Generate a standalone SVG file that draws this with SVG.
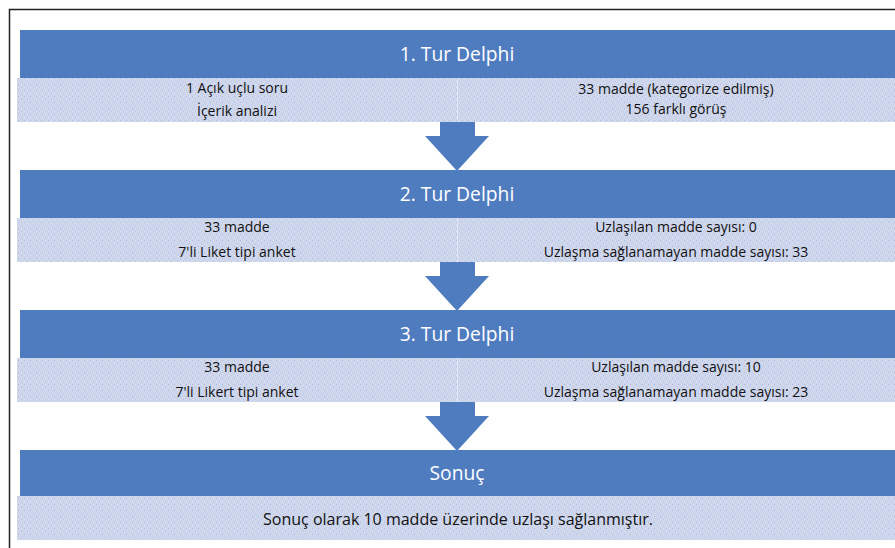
<svg xmlns="http://www.w3.org/2000/svg" width="895" height="548" viewBox="0 0 895 548">
<defs>
<pattern id="tex" width="6" height="6" patternUnits="userSpaceOnUse">
<rect width="6" height="6" fill="#cbd3eb"/>
<rect x="0" y="0" width="1" height="1" fill="#b0bde0"/>
<rect x="3" y="0" width="1" height="1" fill="#dde3f3"/>
<rect x="0" y="3" width="1" height="1" fill="#dde3f3"/>
<rect x="3" y="3" width="1" height="1" fill="#b0bde0"/>
<rect x="2" y="3" width="1" height="1" fill="#d7ddf0"/>
<rect x="4" y="3" width="1" height="1" fill="#d7ddf0"/>
<rect x="3" y="2" width="1" height="1" fill="#d7ddf0"/>
<rect x="3" y="4" width="1" height="1" fill="#d7ddf0"/>
<rect x="1" y="1" width="1" height="1" fill="#d7ddf0"/>
<rect x="5" y="5" width="1" height="1" fill="#d7ddf0"/>
<rect x="1" y="5" width="1" height="1" fill="#d7ddf0"/>
<rect x="5" y="1" width="1" height="1" fill="#d7ddf0"/>
</pattern>
</defs>
<style>
.hdr{fill:#4f7bbf}
.strip{fill:url(#tex)}
.ht{font-family:"Open Sans","Liberation Sans",sans-serif;font-size:19.3px;fill:#ffffff;text-anchor:middle}
.st{font-family:"Open Sans","Liberation Sans",sans-serif;font-size:14px;fill:#111111;text-anchor:middle}
.big{font-size:16px}
.arrow{fill:#4f7bbf}
.div{stroke:#e4e8f4;stroke-width:1}
</style>
<rect x="0" y="0" width="895" height="548" fill="#ffffff"/>
<path d="M9.5 548 V9.5 H895" fill="none" stroke="#222222" stroke-width="1.5"/>

<g id="connectors">
<polygon class="arrow" points="440,122 475,122 475,136 489,136 457,171 425,136 440,136"/>
<polygon class="arrow" points="440,262 475,262 475,276 489,276 457,311 425,276 440,276"/>
<polygon class="arrow" points="440,402 475,402 475,416 489,416 457,451 425,416 440,416"/>
</g>

<g id="round1">
<rect class="hdr" x="20" y="30" width="875" height="48"/>
<text class="ht" x="457" y="61">1. Tur Delphi</text>
<rect class="strip" x="17" y="78" width="878" height="44"/>
<line class="div" x1="457.5" y1="78" x2="457.5" y2="122"/>
<text class="st" x="237" y="93">1 Açık uçlu soru</text>
<text class="st" x="237" y="116">İçerik analizi</text>
<text class="st" x="676" y="94">33 madde (kategorize edilmiş)</text>
<text class="st" x="676" y="114">156 farklı görüş</text>
</g>

<g id="round2">
<rect class="hdr" x="20" y="170" width="875" height="48"/>
<text class="ht" x="457" y="201">2. Tur Delphi</text>
<rect class="strip" x="17" y="218" width="878" height="44"/>
<line class="div" x1="457.5" y1="218" x2="457.5" y2="262"/>
<text class="st" x="237" y="232">33 madde</text>
<text class="st" x="237" y="257">7'li Liket tipi anket</text>
<text class="st" x="676" y="232">Uzlaşılan madde sayısı: 0</text>
<text class="st" x="676" y="257">Uzlaşma sağlanamayan madde sayısı: 33</text>
</g>

<g id="round3">
<rect class="hdr" x="20" y="310" width="875" height="48"/>
<text class="ht" x="457" y="341">3. Tur Delphi</text>
<rect class="strip" x="17" y="358" width="878" height="44"/>
<line class="div" x1="457.5" y1="358" x2="457.5" y2="402"/>
<text class="st" x="237" y="372">33 madde</text>
<text class="st" x="237" y="397">7'li Likert tipi anket</text>
<text class="st" x="676" y="372">Uzlaşılan madde sayısı: 10</text>
<text class="st" x="676" y="397">Uzlaşma sağlanamayan madde sayısı: 23</text>
</g>

<g id="sonuc">
<rect class="hdr" x="20" y="450" width="875" height="46"/>
<text class="ht" x="457" y="480">Sonuç</text>
<rect class="strip" x="17" y="496" width="878" height="44"/>
<text class="st big" x="458" y="525">Sonuç olarak 10 madde üzerinde uzlaşı sağlanmıştır.</text>
</g>
</svg>
